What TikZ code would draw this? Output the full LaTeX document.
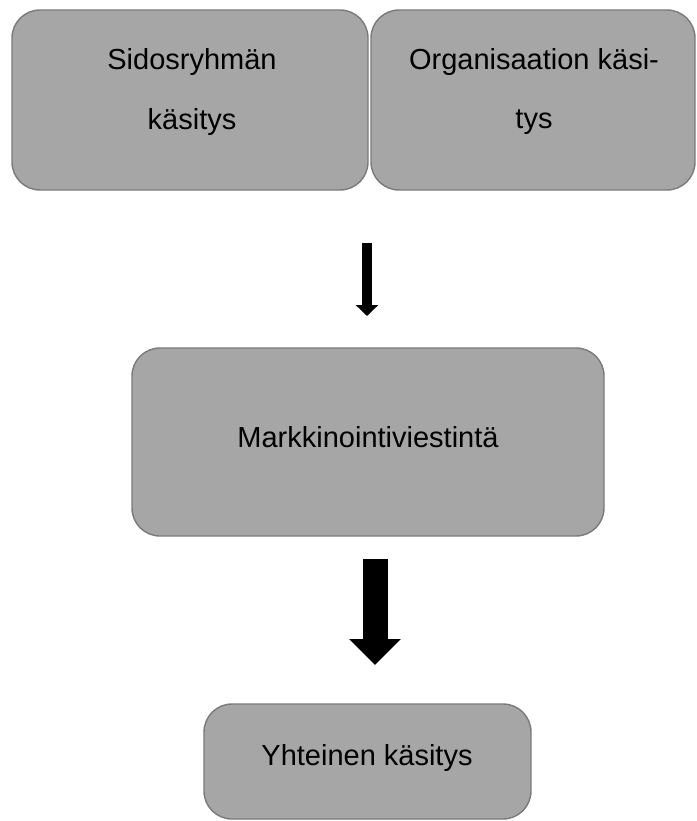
\documentclass[tikz,border=0pt]{standalone}
\usepackage{fontspec}
\setmainfont{Liberation Sans}
\usetikzlibrary{arrows.meta}
\definecolor{boxfill}{HTML}{A6A6A6}
\definecolor{boxline}{HTML}{7A7A7A}
\begin{document}
\begin{tikzpicture}[x=1pt,y=-1pt,
  box/.style={draw=boxline, line width=1.4pt, fill=boxfill, rounded corners=28pt},
  lbl/.style={font=\fontsize{29}{34}\selectfont, text=black, inner sep=0pt}]
\useasboundingbox (0,0) rectangle (696,821);
% boxes
\draw[box] (12,10) rectangle (368,190);
\draw[box] (371,10) rectangle (695,190);
\draw[box] (132,348) rectangle (604,536);
\draw[box] (204,704) rectangle (531,819);
\node[lbl] (s1) at (192,62) {Sidosryhmän};
\node[lbl] (s2) at (192,122) {käsitys};
\node[lbl] (o1) at (534,62) {Organisaation käsi-};
\node[lbl] (o2) at (534,122) {tys};
\node[lbl] (m) at (368,437) {Markkinointiviestintä};
\node[lbl] (y) at (367,758) {Yhteinen käsitys};
% arrows
\coordinate (a1s) at (367,243);
\coordinate (a1e) at (367,316);
\coordinate (a2s) at (375,559);
\coordinate (a2e) at (375,665);
\draw[line width=10pt, -{Triangle[width=22pt,length=11pt]}] (a1s) -- (a1e);
\draw[line width=25pt, -{Triangle[width=50pt,length=26pt]}] (a2s) -- (a2e);
\end{tikzpicture}
\end{document}
